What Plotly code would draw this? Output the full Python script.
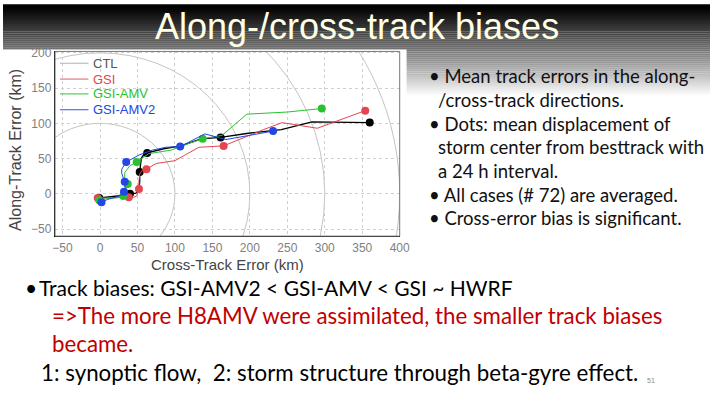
import numpy as np
import plotly.graph_objects as go

W, H = 720, 405
SHIFT = 3  # global vertical nudge (px, upward)

# ---------------- data (6-hourly mean displacement, km) ----------------
series_names = ["CTL", "GSI", "GSI-AMV", "GSI-AMV2"]
series_colors = ["#000000", "#e4464f", "#27c22f", "#2346e4"]

ctl_x = [-1, 10, 22, 33, 40, 48, 52, 53, 53, 54, 55, 58, 63, 85, 108, 135, 161, 198, 242, 283, 360]
ctl_y = [-6, -5, -4, -2, 0, 1, 6, 18, 31, 40, 50, 55, 58, 64, 68, 78, 80, 86, 91, 102, 101]

gsi_x = [-3, 8, 20, 30, 38.5, 45, 49, 51, 52, 52, 53, 56, 62, 75, 100, 132, 165, 218, 243, 290, 354]
gsi_y = [-6, -6, -6, -6, -5, -5, -3, 2, 7, 18, 28, 33, 35, 43, 47, 66, 68, 91, 101, 93, 118]

amv_x = [-1, 8, 18, 26, 31, 33, 34, 36, 37, 33, 33, 40, 49, 65, 95, 120, 137, 163, 196, 250, 296]
amv_y = [-9, -7, -6, -5, -3, 2, 6, 10, 14, 22, 30, 40, 45, 57, 62, 72, 78, 83, 113, 116, 121]

amv2_x = [2, 10, 20, 28, 32, 34, 33, 32, 33, 31, 29, 29, 35, 52, 70, 88, 107, 140, 168, 200, 231]
amv2_y = [-12, -8, -5, -2, 3, 7, 11, 14, 17, 24, 29, 35, 45, 55, 62, 66, 67, 85, 77, 83, 89]

dot_every = 4  # one dot every 24 h (4 x 6 h)
range_rings = [100, 200, 300, 400]
x_ticks = [-50, 0, 50, 100, 150, 200, 250, 300, 350, 400]
y_ticks = [-50, 0, 50, 100, 150, 200]

title_text = "Along-/cross-track biases"
right_lines = [
    ("• Mean track errors in the along-", 0),
    ("/cross-track directions.", 1),
    ("• Dots: mean displacement of", 0),
    ("storm center from besttrack with", 1),
    ("a 24 h interval.", 1),
    ("• All cases (# 72) are averaged.", 0),
    ("• Cross-error bias is significant.", 0),
]
bottom_lines = [
    ("Track biases: GSI-AMV2 &lt; GSI-AMV &lt; GSI ~ HWRF", "#000000", 35, 289, 21),
    ("=>The more H8AMV were assimilated, the smaller track biases", "#c00000", 48, 317, 22.3),
    ("became.", "#c00000", 48, 346, 22.3),
    ("1: synoptic flow,&nbsp; 2: storm structure through beta-gyre effect.", "#000000", 37, 375, 22.3),
]

# ---------------- helpers ----------------
def PX(x):
    return x / W

def PY(y):
    return 1 - (y - SHIFT) / H

fig = go.Figure()

all_series = [
    (ctl_x, ctl_y, 1.4),
    (gsi_x, gsi_y, 1.0),
    (amv_x, amv_y, 1.0),
    (amv2_x, amv2_y, 1.0),
]
for (xs, ys, lw), name, col in zip(all_series, series_names, series_colors):
    fig.add_trace(go.Scatter(x=xs, y=ys, mode="lines", name=name,
                             line=dict(color=col, width=lw),
                             showlegend=False, hoverinfo="skip"))
    fig.add_trace(go.Scatter(x=xs[::dot_every], y=ys[::dot_every], mode="markers",
                             name=name, marker=dict(color=col, size=8),
                             showlegend=False))

shapes = []
# slide background gradient (black at top -> white)
for i in range(0, 100, 2):
    t = min(max((i - 4) / 90.0, 0.0), 1.0)
    v = int(255 * t ** 1.05)
    shapes.append(dict(type="rect", xref="paper", yref="paper", x0=0, x1=1,
                       y0=PY(i + 2.2), y1=min(1.0, PY(i)), fillcolor=f"rgb({v},{v},{v})",
                       line=dict(width=0), layer="below"))
# white chart image
shapes.append(dict(type="rect", xref="paper", yref="paper", x0=0, x1=PX(411),
                   y0=PY(272), y1=PY(48), fillcolor="white",
                   line=dict(width=0), layer="below"))
# range rings
for r in range_rings:
    shapes.append(dict(type="circle", xref="x", yref="y", x0=-r, x1=r, y0=-r, y1=r,
                       line=dict(color="#b4b4b4", width=0.8), layer="below"))
# top/right frame (gray)
shapes.append(dict(type="rect", xref="paper", yref="paper", x0=PX(53), x1=PX(404),
                   y0=PY(237), y1=PY(50), line=dict(color="#777777", width=1),
                   fillcolor="rgba(0,0,0,0)", layer="above"))

# legend (custom, inside plot)
leg_y = [62, 78, 93, 109]
leg_line_cols = ["#bdbdbd", "#e4767c", "#4fd055", "#5570e8"]
leg_text_cols = ["#555555", "#e4464f", "#27c22f", "#2346e4"]
annotations = []
for name, ly, lc, tc in zip(series_names, leg_y, leg_line_cols, leg_text_cols):
    shapes.append(dict(type="line", xref="paper", yref="paper", x0=PX(58), x1=PX(87),
                       y0=PY(ly), y1=PY(ly), line=dict(color=lc, width=1.2)))
    annotations.append(dict(x=PX(90), y=PY(ly), xref="paper", yref="paper",
                            text=name, showarrow=False, xanchor="left", yanchor="middle",
                            font=dict(family="Liberation Sans", size=13, color=tc)))

# axis titles
annotations.append(dict(x=PX(229), y=PY(266), xref="paper", yref="paper",
                        text="Cross-Track Error (km)", showarrow=False,
                        xanchor="center", yanchor="middle",
                        font=dict(family="Liberation Sans", size=15, color="#444444")))
annotations.append(dict(x=PX(12), y=PY(150), xref="paper", yref="paper",
                        text="Along-Track Error (km)", showarrow=False, textangle=-90,
                        xanchor="center", yanchor="middle",
                        font=dict(family="Liberation Sans", size=16, color="#444444")))

# slide title
annotations.append(dict(x=PX(360), y=PY(25), xref="paper", yref="paper",
                        text=title_text, showarrow=False, xanchor="center", yanchor="middle",
                        font=dict(family="Liberation Sans", size=36, color="#FFFFE6")))

# right bullets
for k, (txt, indent) in enumerate(right_lines):
    x0 = 432 if indent == 0 else 441
    annotations.append(dict(x=PX(x0), y=PY(75 + 24 * k), xref="paper", yref="paper",
                            text=txt, showarrow=False, xanchor="left", yanchor="middle",
                            font=dict(family="Lato", size=18.5, color="#111111")))

# bottom text
annotations.append(dict(x=PX(29), y=PY(bottom_lines[0][3]), xref="paper", yref="paper",
                        text="•", showarrow=False, xanchor="center", yanchor="middle",
                        borderpad=0,
                        font=dict(family="Lato", size=21, color="#000000")))
for txt, col, x0, y0, fs in bottom_lines:
    annotations.append(dict(x=PX(x0), y=PY(y0), xref="paper", yref="paper",
                            text=txt, showarrow=False, xanchor="left", yanchor="middle",
                            font=dict(family="Lato", size=fs, color=col)))
annotations.append(dict(x=PX(660), y=PY(383), xref="paper", yref="paper",
                        text="51", showarrow=False, xanchor="center", yanchor="middle",
                        font=dict(family="Liberation Sans", size=7, color="#888888")))

axis_common = dict(showgrid=True, gridcolor="#cfcfcf", griddash="dot", gridwidth=1,
                   zeroline=False, showline=True, linecolor="black", linewidth=1.3,
                   ticks="", tickfont=dict(family="Liberation Sans", size=12, color="#808080"),
                   fixedrange=True)

fig.update_layout(
    width=W, height=H,
    margin=dict(l=0, r=0, t=0, b=0),
    paper_bgcolor="white", plot_bgcolor="white",
    showlegend=False,
    xaxis=dict(domain=[PX(53), PX(404)], range=[-60, 400], tickvals=x_ticks, **axis_common),
    yaxis=dict(domain=[PY(237), PY(50)], range=[-60, 202], tickvals=y_ticks, **axis_common),
    shapes=shapes,
    annotations=annotations,
)

fig.write_html(
    "out.html",
    config={"displayModeBar": False, "staticPlot": True},
    post_script=(
        "document.documentElement.style.margin='0';"
        "document.body.style.margin='0';document.body.style.padding='0';"
        "document.body.style.overflow='hidden';"
        "var d=document.getElementById('{plot_id}');"
        "d.style.position='absolute';d.style.top='0px';d.style.left='0px';"
    ),
)
